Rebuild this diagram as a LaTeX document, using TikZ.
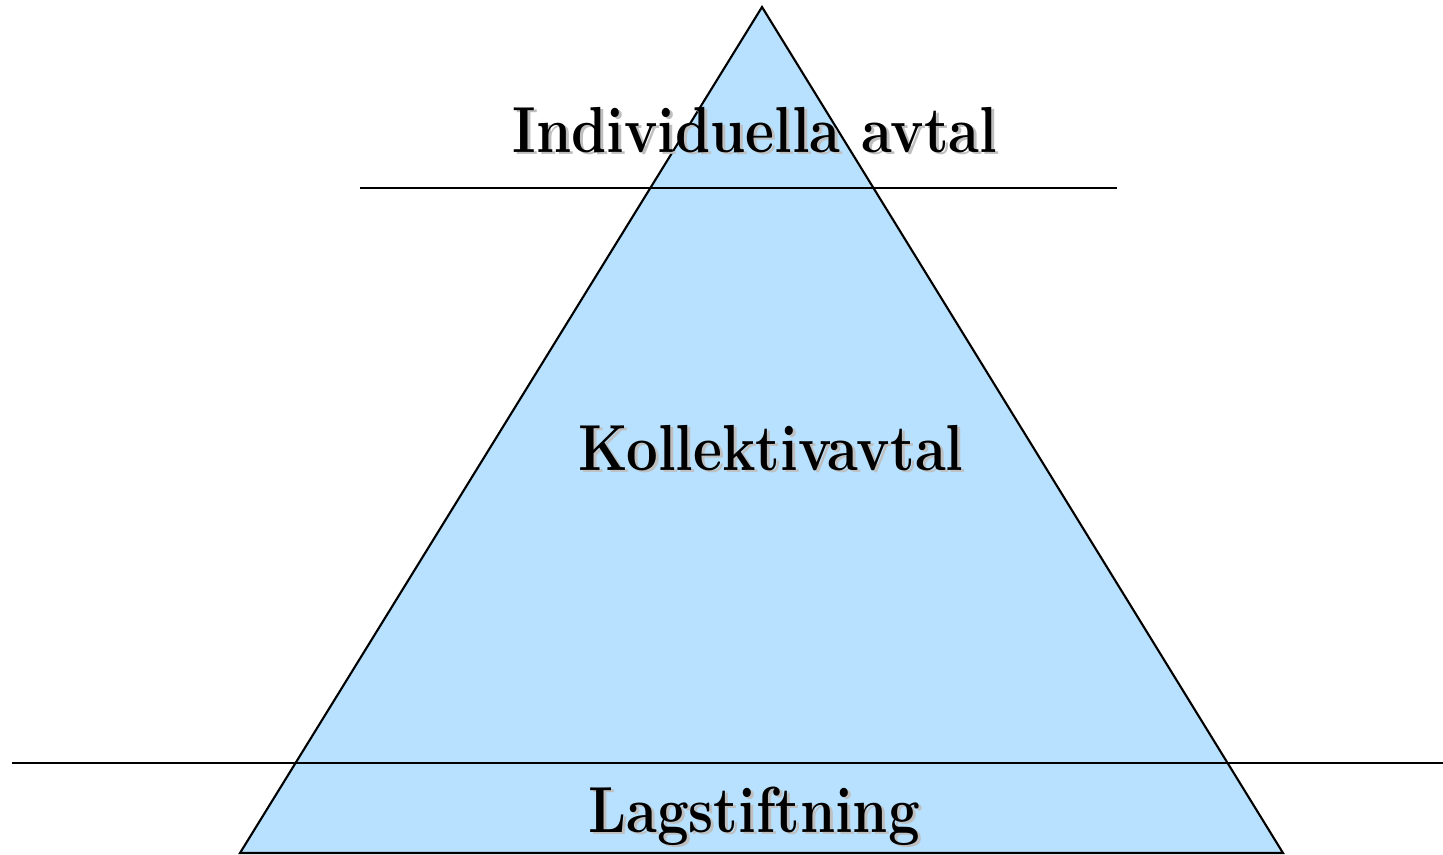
\documentclass[tikz,border=0pt]{standalone}
\usepackage{tikz}
\definecolor{pyramidblue}{RGB}{183,225,254}
\newcommand{\narrowtext}[1]{\scalebox{0.865}[1]{#1}}
\tikzset{
  label text/.style={font=\fontsize{18.5}{22}\selectfont\bfseries, anchor=base, inner sep=0pt},
  label shadow/.style={label text, text=black!25}
}
\begin{document}
\begin{tikzpicture}[x=0.01cm, y=-0.01cm, line width=0.6pt]
  \useasboundingbox (0,0) rectangle (1443,854);
  %corners and line ends
  \coordinate (top) at (762,7);
  \coordinate (bl) at (240,853);
  \coordinate (br) at (1283,853);
  \coordinate (upper left) at (360,188);
  \coordinate (upper right) at (1117,188);
  \coordinate (lower left) at (12,763);
  \coordinate (lower right) at (1443,763);
  \filldraw[fill=pyramidblue] (top) -- (br) -- (bl) -- cycle;
  \draw (upper left) -- (upper right);
  \draw (lower left) -- (lower right);
  %labels
  \node[label shadow] at (758,154) (indiv shadow) {\narrowtext{Individuella avtal}};
  \node[label text] at (755,152) (indiv) {\narrowtext{Individuella avtal}};
  \node[label shadow] at (774,472) (koll shadow) {\narrowtext{Kollektivavtal}};
  \node[label text] at (771,470) (koll) {\narrowtext{Kollektivavtal}};
  \node[label shadow] at (757,834) (lag shadow) {\narrowtext{Lagstiftning}};
  \node[label text] at (754,832) (lag) {\narrowtext{Lagstiftning}};
\end{tikzpicture}
\end{document}
